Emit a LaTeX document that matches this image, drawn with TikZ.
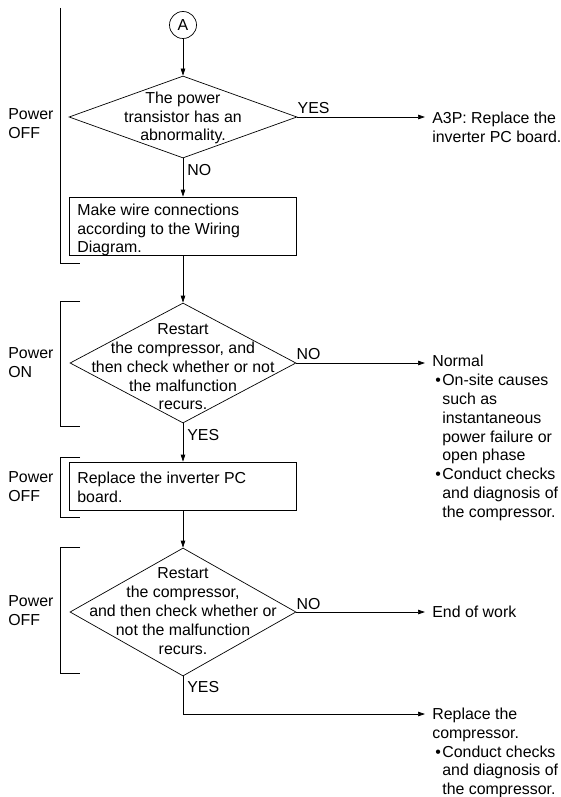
\documentclass[tikz,border=0pt]{standalone}
\usepackage{fontspec}
\setmainfont{Liberation Sans}
\usetikzlibrary{shapes.geometric,arrows.meta}
\newcommand\mybul{\makebox[10pt][l]{\hspace{3pt}\textbullet}}
\newcommand\myind{\hspace*{10pt}}
\begin{document}
\begin{tikzpicture}[x=1pt,y=-1pt,line width=0.7pt,
  >={Triangle[length=7pt,width=4.5pt]},
  txt/.style={font=\fontsize{15.9}{18.8}\selectfont,inner sep=0pt},
  dia/.style={diamond,draw,inner sep=0pt},
  boxnode/.style={draw,rectangle,inner sep=0pt,minimum width=227pt},
  lbl/.style={txt},
  bracket/.style={line width=0.7pt}]
\useasboundingbox (0,0) rectangle (561,797);

% brackets
\draw[bracket] (60,8) -- (60,263) -- (80,263);
\draw[bracket] (80,301) -- (60,301) -- (60,426) -- (80,426);
\draw[bracket] (80,457) -- (60,457) -- (60,517) -- (80,517);
\draw[bracket] (80,547) -- (60,547) -- (60,673) -- (80,673);

% power labels
\node[txt,align=left,anchor=west] (p1) at (8,124) {Power\\OFF};
\node[txt,align=left,anchor=west] (p2) at (8,363) {Power\\ON};
\node[txt,align=left,anchor=west] (p3) at (8,487) {Power\\OFF};
\node[txt,align=left,anchor=west] (p4) at (8,611) {Power\\OFF};

% main column
\node[circle,draw,minimum size=27pt,txt] (A) at (183,25) {A};
\node[dia,minimum width=228pt,minimum height=82pt] (d1) at (183,117) {};
\node[txt,align=center] (t1) at (183,118) {The power\\transistor has an\\abnormality.};

\node[boxnode,minimum height=58pt] (b1) at (183,226) {};
\node[txt,align=left,anchor=west] (b1t) at (77,230) {Make wire connections\\according to the Wiring\\Diagram.};

\node[dia,minimum width=226pt,minimum height=120pt] (d2) at (183,363) {};
\node[txt,align=center] (t2) at (183,367) {Restart\\the compressor, and\\then check whether or not\\the malfunction\\recurs.};

\node[boxnode,minimum height=48pt] (b2) at (183,486) {};
\node[txt,align=left,anchor=west] (b2t) at (77,487.5) {Replace the inverter PC\\board.};

\node[dia,minimum width=226pt,minimum height=128pt] (d3) at (183,612) {};
\node[txt,align=center] (t3) at (183,611) {Restart\\the compressor,\\and then check whether or\\not the malfunction\\recurs.};

% right column
\node[txt,align=left,anchor=west] (r1) at (432,127) {A3P: Replace the\\inverter PC board.};
\node[txt,align=left,anchor=west] (r2) at (432,438) {Normal\\\mybul On-site causes\\\myind such as\\\myind instantaneous\\\myind power failure or\\\myind open phase\\\mybul Conduct checks\\\myind and diagnosis of\\\myind the compressor.};
\node[txt,align=left,anchor=west] (r3) at (432,612) {End of work};
\node[txt,align=left,anchor=west] (r4) at (432,753) {Replace the\\compressor.\\\mybul Conduct checks\\\myind and diagnosis of\\\myind the compressor.};

% connectors
\draw[->] (A) -- (d1);
\draw[->] (d1) -- (b1);
\draw[->] (b1) -- (d2);
\draw[->] (d2) -- (b2);
\draw[->] (b2) -- (d3);
\draw[->,shorten >=7pt] (d1.east) -- (d1.east -| r1.west);
\draw[->,shorten >=7pt] (d2.east) -- (d2.east -| r2.west);
\draw[->,shorten >=7pt] (d3.east) -- (d3.east -| r3.west);
\coordinate (c1) at (183,714);
\draw[->,shorten >=7pt] (d3.south) -- (c1) -- (c1 -| r4.west);

% branch labels
\node[lbl,anchor=south west,yshift=2.5pt] (y1) at (d1.east) {YES};
\node[lbl,anchor=north west,xshift=4pt,yshift=-6pt] (n1) at (d1.south) {NO};
\node[lbl,anchor=south west,yshift=2.5pt] (n2) at (d2.east) {NO};
\node[lbl,anchor=north west,xshift=4pt,yshift=-5.5pt] (y2) at (d2.south) {YES};
\node[lbl,anchor=south west,yshift=2.5pt] (n3) at (d3.east) {NO};
\node[lbl,anchor=north west,xshift=4pt,yshift=-5pt] (y3) at (d3.south) {YES};
\end{tikzpicture}
\end{document}
